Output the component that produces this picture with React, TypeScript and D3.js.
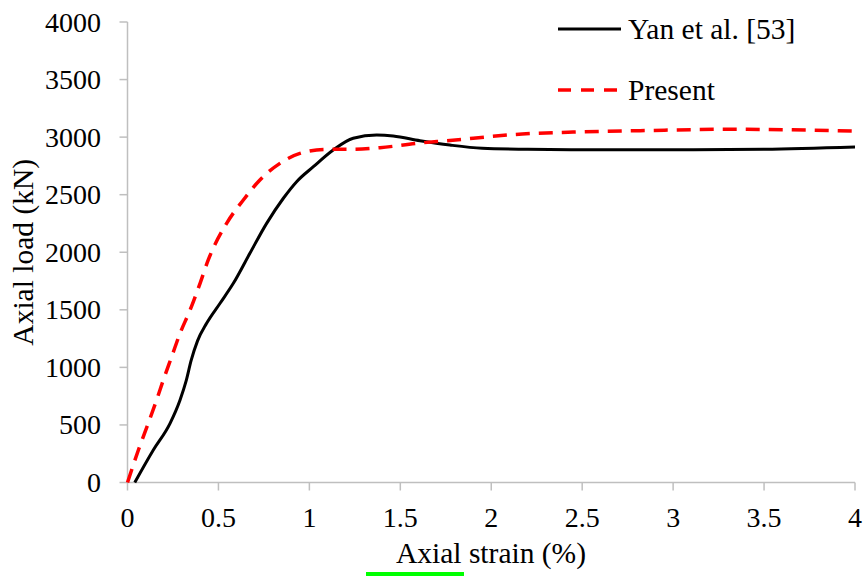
import React from "react";
import * as d3 from "d3";

const yanStrain = [0.04, 0.142, 0.234, 0.289, 0.322, 0.35, 0.385, 0.435, 0.509, 0.582, 0.673, 0.765, 0.857, 0.93, 1.022, 1.131, 1.241, 1.37, 1.461, 1.608, 1.773, 1.95, 2.2, 2.5, 3.0, 3.5, 4.0];
const yanLoad = [0, 282, 514, 717, 880, 1060, 1230, 1383, 1557, 1730, 1991, 2251, 2469, 2613, 2743, 2888, 2990, 3018, 3010, 2969, 2931, 2903, 2894, 2890, 2890, 2895, 2915];

const presentStrain = [0, 0.06, 0.114, 0.16, 0.197, 0.243, 0.289, 0.344, 0.399, 0.444, 0.545, 0.637, 0.728, 0.838, 0.948, 1.095, 1.241, 1.388, 1.59, 1.757, 2.17, 2.45, 2.818, 3.31, 4.0];
const presentLoad = [0, 282, 514, 717, 890, 1093, 1296, 1498, 1730, 1933, 2251, 2454, 2628, 2772, 2859, 2894, 2894, 2908, 2946, 2969, 3027, 3044, 3056, 3068, 3052];

const xTicks = [0, 0.5, 1, 1.5, 2, 2.5, 3, 3.5, 4];
const yTicks = [0, 500, 1000, 1500, 2000, 2500, 3000, 3500, 4000];
const seriesNames = ["Yan et al. [53]", "Present"];

const W = 866;
const H = 576;
const FONT = "Liberation Serif";
const FS_TICK = 28;
const FS_TEXT = 29.5;

function T(props: any) {
  const { children, fs, ...rest } = props;
  return (
    <text {...rest} fill="#000" style={{ fontFamily: FONT, fontSize: fs }}>
      {children}
    </text>
  );
}

export default function App() {
  const x = d3.scaleLinear().domain([0, 4]).range([127.5, 855]);
  const y = d3.scaleLinear().domain([0, 4000]).range([482.5, 22]);
  const line = d3
    .line<[number, number]>()
    .x((d) => x(d[0]))
    .y((d) => y(d[1]))
    .curve(d3.curveMonotoneX);
  const yanPts = yanStrain.map((s, i) => [s, yanLoad[i]] as [number, number]);
  const presPts = presentStrain.map((s, i) => [s, presentLoad[i]] as [number, number]);
  const axisColor = "#bfbfbf";
  const x0 = x(0);
  const y0 = y(0);

  return (
    <div style={{ position: "absolute", left: 0, top: 0 }}>
      <svg width={W} height={H} style={{ display: "block", background: "#fff" }}>
        <rect width={W} height={H} fill="#fff" />
        {/* axes */}
        <line x1={x0} x2={x(4)} y1={y0} y2={y0} stroke={axisColor} strokeWidth={1.5} />
        <line x1={x0} x2={x0} y1={y0} y2={y(4000)} stroke={axisColor} strokeWidth={1.5} />
        {xTicks.map((t) => (
          <g key={"x" + t}>
            <line x1={x(t)} x2={x(t)} y1={y0} y2={y0 + 8} stroke={axisColor} strokeWidth={1.5} />
            <T x={x(t)} y={527} textAnchor="middle" fs={FS_TICK}>
              {String(t)}
            </T>
          </g>
        ))}
        {yTicks.map((t) => (
          <g key={"y" + t}>
            <line x1={x0 - 8} x2={x0} y1={y(t)} y2={y(t)} stroke={axisColor} strokeWidth={1.5} />
            <T x={101} y={y(t) + 9.5} textAnchor="end" fs={FS_TICK}>
              {String(t)}
            </T>
          </g>
        ))}
        {/* series */}
        <path d={line(yanPts) || ""} fill="none" stroke="#000" strokeWidth={3} />
        <path d={line(presPts) || ""} fill="none" stroke="#ff0000" strokeWidth={3.5} strokeDasharray="14,9" />
        {/* legend */}
        <line x1={558} x2={621} y1={29} y2={29} stroke="#000" strokeWidth={3} />
        <T x={628} y={39} fs={FS_TEXT}>{seriesNames[0]}</T>
        <line x1={558} x2={621} y1={90} y2={90} stroke="#ff0000" strokeWidth={3.5} strokeDasharray="13,10" />
        <T x={628} y={100} fs={FS_TEXT}>{seriesNames[1]}</T>
        {/* axis titles */}
        <T x={491} y={563} textAnchor="middle" fs={FS_TEXT}>Axial strain (%)</T>
        <rect x={366} y={572} width={98} height={4} fill="#00ff00" />
        <T transform={`translate(33, ${(y(0) + y(4000)) / 2}) rotate(-90)`} textAnchor="middle" fs={FS_TEXT}>
          Axial load (kN)
        </T>
      </svg>
    </div>
  );
}
